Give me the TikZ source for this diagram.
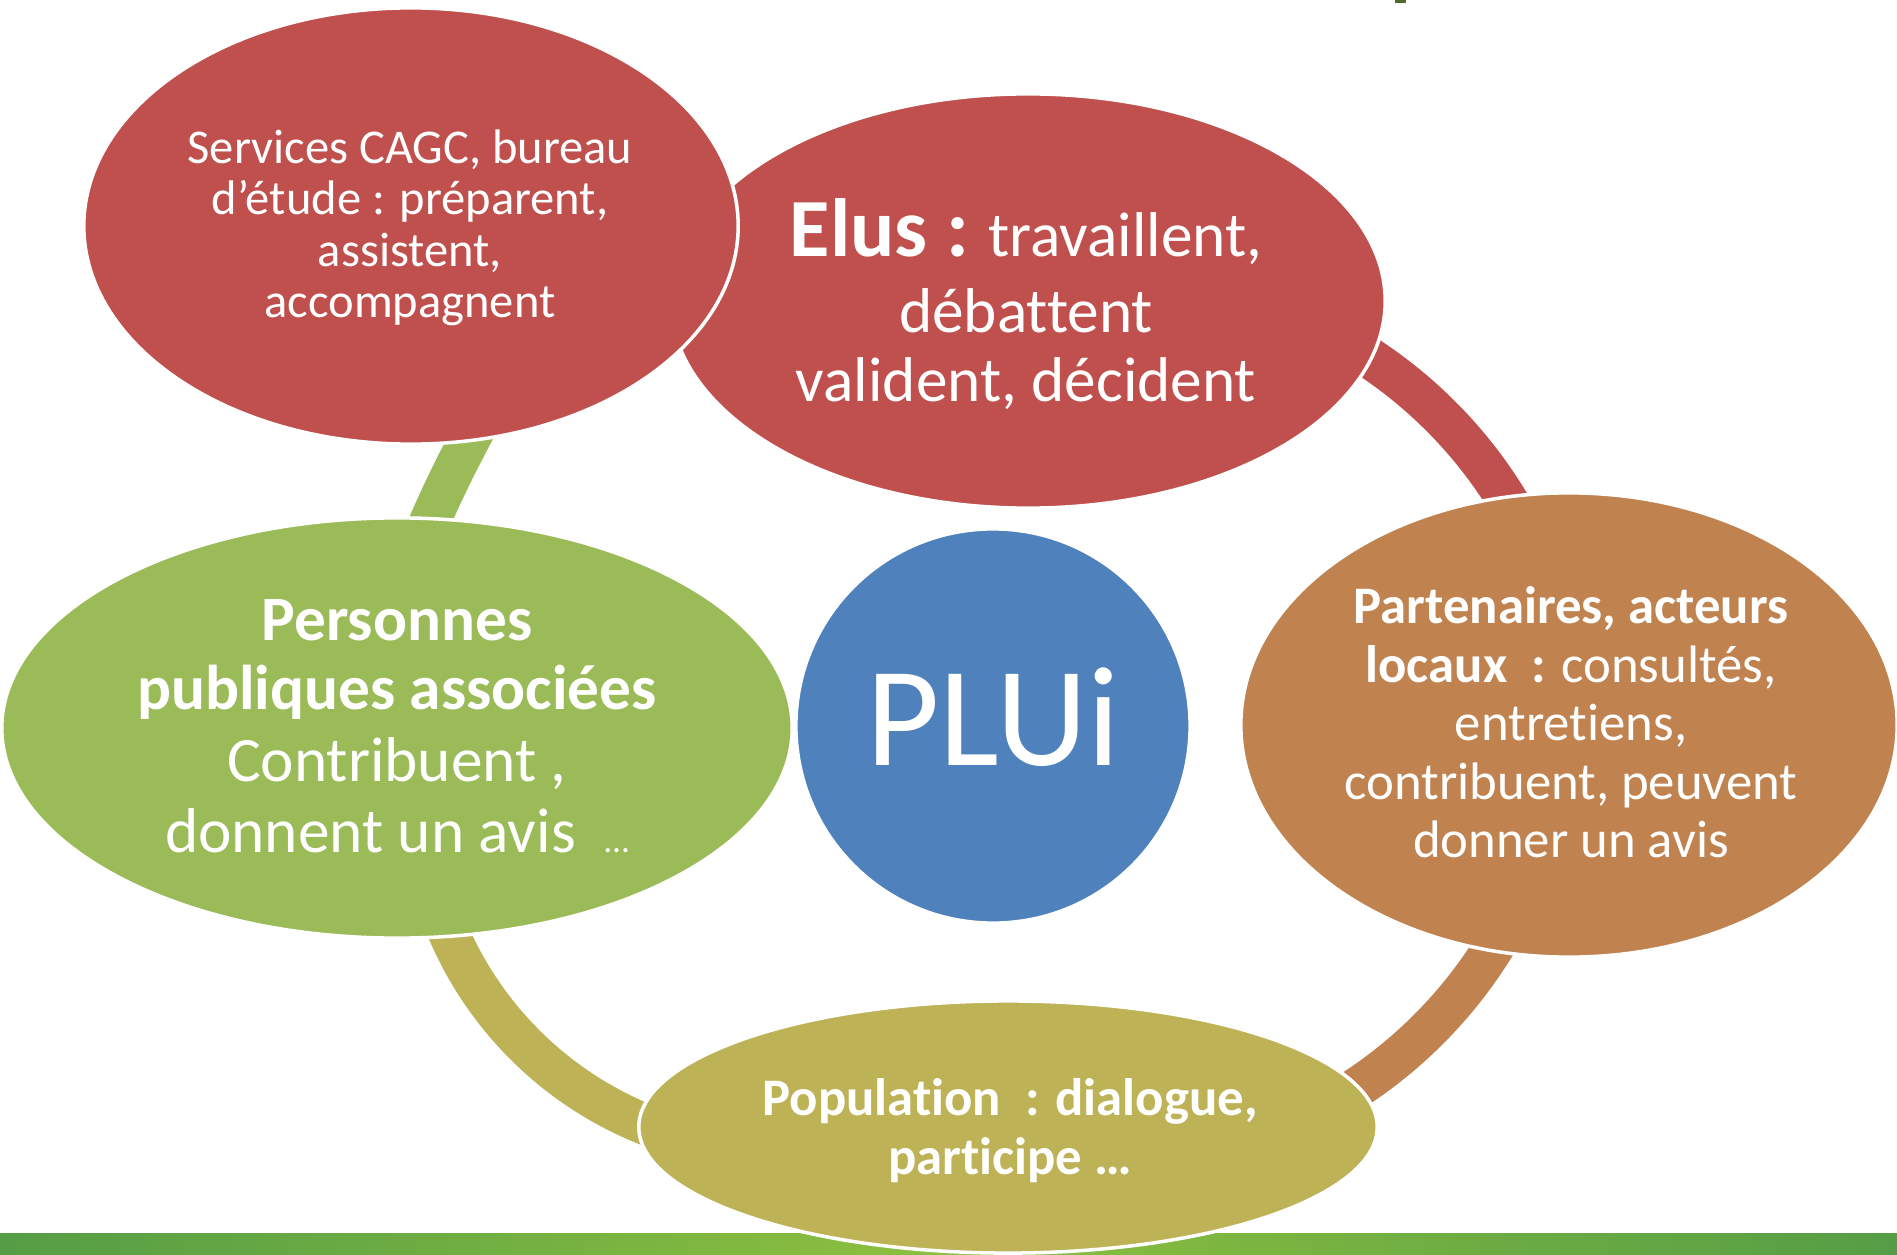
\documentclass[tikz,border=0pt]{standalone}
\usepackage{fontspec}
\setmainfont{Carlito}[Ligatures=NoCommon]
\usetikzlibrary{shapes.geometric}
\definecolor{cRed}{HTML}{C0504D}
\definecolor{cGreen}{HTML}{9BBB59}
\definecolor{cBrown}{HTML}{C08350}
\definecolor{cOlive}{HTML}{BEB257}
\definecolor{cBlue}{HTML}{4F81BD}
\definecolor{bandL}{HTML}{559D45}
\definecolor{bandM}{HTML}{8DC03F}
\definecolor{markG}{HTML}{4E6B2A}
\tikzset{
  bubble/.style={ellipse, draw=white, line width=1pt, inner sep=0pt, outer sep=0pt},
  arcband/.style={line width=11.7pt, line cap=butt},
  txt/.style={text=white, anchor=base, inner sep=0pt, outer sep=0pt},
  fsvc/.style={font=\fontsize{13.8pt}{16pt}\selectfont},
  felu/.style={font=\fontsize{18pt}{21pt}\selectfont},
  fppa/.style={font=\fontsize{18pt}{21pt}\selectfont},
  fpar/.style={font=\fontsize{15pt}{18pt}\selectfont},
  fplu/.style={font=\fontsize{40.4pt}{46pt}\selectfont},
}
\begin{document}
\begin{tikzpicture}[x={(0.01cm,0)}, y={(0,-0.01cm)}]
\useasboundingbox (0,0) rectangle (1897,1255);
% bottom band and top mark
\fill[left color=bandL, right color=bandL, middle color=bandM] (0,1233) rectangle (1897,1255);
\fill[markG] (1395,0) rectangle (1406,3);
% connector end points
\coordinate (g1) at (420,545);  \coordinate (g2) at (480,420);
\coordinate (r1) at (1331,335); \coordinate (r2) at (1525,532);
\coordinate (b1) at (1513,913); \coordinate (b2) at (1312,1114);
\coordinate (o1) at (681.4,1136.9); \coordinate (o2) at (440.4,912.2);
% connectors
\draw[arcband, cRed] (r1) .. controls (1414.4,379.3) and (1482.1,447.9) .. (r2);
\draw[arcband, cBrown] (b1) .. controls (1468.9,999.5) and (1398.5,1069.9) .. (b2);
\draw[arcband, cOlive] (o1) .. controls (569.7,1104.8) and (480.1,1021.4) .. (o2);
\draw[arcband, cGreen] (g1) .. controls (437,503) and (457,462) .. (g2);
% ellipses
\node[bubble, fill=cRed, minimum width=7.14cm, minimum height=4.14cm] (elus) at (1028,301) {};
\node[bubble, fill=cBrown, minimum width=6.56cm, minimum height=4.64cm] (part) at (1569,725) {};
\node[bubble, fill=cOlive, minimum width=7.38cm, minimum height=2.52cm] (popu) at (1008,1127) {};
\node[bubble, fill=cGreen, minimum width=7.90cm, minimum height=4.20cm] (ppa) at (397,728) {};
\node[bubble, fill=cRed, minimum width=6.54cm, minimum height=4.36cm] (serv) at (411,226) {};
\node[circle, draw=white, line width=1pt, fill=cBlue, minimum size=3.94cm, inner sep=0pt] (plui) at (993,726) {};
% texts
\node[txt, fsvc] (s1) at (410,163.5) {Services CAGC, bureau};
\node[txt, fsvc] (s2) at (410,215) {d’étude : préparent,};
\node[txt, fsvc] (s3) at (410,266.5) {assistent,};
\node[txt, fsvc] (s4) at (410,318) {accompagnent};
\node[txt, felu] (e1) at (1026,257) {{\fontsize{23.5pt}{26pt}\selectfont\bfseries Elus :} travaillent,};
\node[txt, felu] (e2) at (1026,333) {débattent};
\node[txt, felu] (e3) at (1026,402) {valident, décident};
\node[txt, fppa] (p1) at (397,640) {\bfseries Personnes};
\node[txt, fppa] (p2) at (397,709) {\bfseries publiques associées};
\node[txt, fppa] (p3) at (397,781) {Contribuent ,};
\node[txt, fppa] (p4) at (397,852) {donnent un avis\ \ {\fontsize{10pt}{12pt}\selectfont …}};
\node[txt, fpar] (a1) at (1571,623) {\bfseries Partenaires, acteurs};
\node[txt, fpar] (a2) at (1571,682) {\textbf{locaux\ \ :} consultés,};
\node[txt, fpar] (a3) at (1571,740) {entretiens,};
\node[txt, fpar] (a4) at (1571,799) {contribuent, peuvent};
\node[txt, fpar] (a5) at (1571,857) {donner un avis};
\node[txt, fpar] (q1) at (1010,1115) {\bfseries Population\ \ : dialogue,};
\node[txt, fpar] (q2) at (1010,1174) {\bfseries participe …};
\node[txt, fplu] (t1) at (993,765) {PLUi};
\end{tikzpicture}
\end{document}
